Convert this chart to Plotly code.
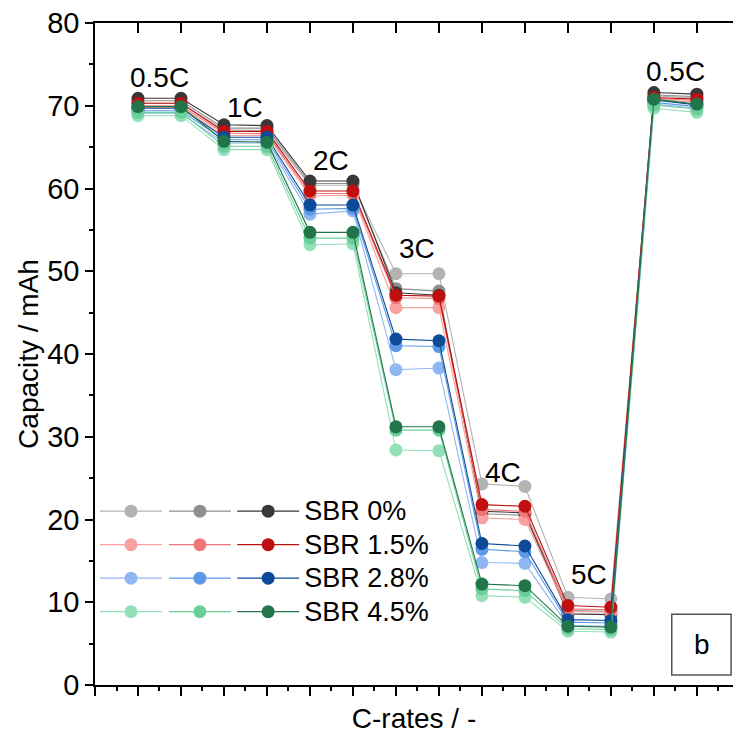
import plotly.graph_objects as go

x_pos = list(range(1, 15))
rate_labels = ["0.5C", "1C", "2C", "3C", "4C", "5C", "0.5C"]
rate_label_x = [1.5, 3.5, 5.5, 7.5, 9.5, 11.5, 13.5]
rate_label_y = [73.4, 69.8, 63.4, 52.8, 25.7, 13.3, 74.2]

sbr_names = ["SBR 0%", "SBR 1.5%", "SBR 2.8%", "SBR 4.5%"]

grey_L = [70.3, 70.3, 67.1, 67.0, 60.4, 60.4, 49.7, 49.7, 24.3, 24.0, 10.6, 10.4, 71.2, 70.9]
grey_M = [70.6, 70.6, 67.3, 67.3, 60.6, 60.6, 47.9, 47.6, 20.7, 20.5, 9.0, 8.9, 71.3, 71.1]
grey_D = [70.9, 70.9, 67.7, 67.6, 60.9, 60.9, 47.4, 47.1, 21.0, 20.8, 8.6, 8.5, 71.6, 71.4]

red_L = [69.8, 69.8, 66.4, 66.4, 59.1, 59.2, 45.6, 45.6, 20.2, 20.0, 8.9, 8.8, 70.8, 70.4]
red_M = [70.0, 70.0, 66.7, 66.6, 59.4, 59.4, 46.8, 46.7, 21.2, 21.0, 9.2, 9.1, 70.9, 70.6]
red_D = [70.3, 70.3, 66.9, 66.9, 59.7, 59.7, 47.1, 47.0, 21.8, 21.6, 9.6, 9.4, 71.0, 70.8]

blue_L = [69.1, 69.1, 65.5, 65.5, 56.9, 57.3, 38.1, 38.3, 14.8, 14.7, 7.2, 7.1, 70.2, 69.7]
blue_M = [69.4, 69.4, 65.9, 65.9, 57.5, 57.6, 41.0, 40.9, 16.4, 16.1, 7.6, 7.5, 70.4, 69.9]
blue_D = [69.7, 69.7, 66.2, 66.2, 58.0, 58.0, 41.8, 41.6, 17.1, 16.8, 7.9, 7.8, 70.7, 70.1]

green_L = [68.8, 68.8, 64.7, 64.7, 53.2, 53.3, 28.4, 28.3, 10.8, 10.6, 6.5, 6.4, 69.7, 69.2]
green_M = [69.2, 69.2, 65.1, 65.1, 54.0, 54.0, 30.8, 30.8, 11.6, 11.4, 6.8, 6.7, 70.1, 69.6]
green_D = [69.9, 69.9, 65.7, 65.6, 54.7, 54.7, 31.2, 31.2, 12.2, 12.0, 7.1, 7.0, 70.8, 70.2]

groups = [
    (grey_L, grey_M, grey_D),
    (red_L, red_M, red_D),
    (blue_L, blue_M, blue_D),
    (green_L, green_M, green_D),
]
colors = [
    ("#b3b3b3", "#8f8f8f", "#383838"),
    ("#f7a1a1", "#ef7676", "#c00f0f"),
    ("#8fb8f2", "#5c9ae8", "#0d4a98"),
    ("#93dfb8", "#6bcf9a", "#22744a"),
]

FONT = "Arial, Liberation Sans, sans-serif"
fig = go.Figure()
legends = ["legend", "legend2", "legend3"]
for gi, (series, cols) in enumerate(zip(groups, colors)):
    for si, (vals, c) in enumerate(zip(series, cols)):
        label = f'<span style="font-size:27px">{sbr_names[gi]}</span>' if si == 2 else ""
        fig.add_trace(go.Scatter(
            x=x_pos, y=vals, mode="lines+markers",
            name=label,
            legend=legends[si],
            legendgroup=f"g{gi}_{si}",
            line=dict(color=c, width=1.1),
            marker=dict(color=c, size=13),
        ))

# dummy trace for the top mirrored axis
fig.add_trace(go.Scatter(x=[], y=[], xaxis="x2", showlegend=False, hoverinfo="skip"))

for lx, ly, lt in zip(rate_label_x, rate_label_y, rate_labels):
    fig.add_annotation(x=lx, y=ly, text=lt, showarrow=False,
                       font=dict(family=FONT, size=28, color="black"))

fig.add_shape(type="rect", xref="paper", yref="paper",
              x0=0.904, x1=0.997, y0=0.015, y1=0.107,
              line=dict(color="#555555", width=1.5), fillcolor="white")
fig.add_annotation(xref="paper", yref="paper", x=0.951, y=0.061, text="b",
                   xanchor="center", yanchor="middle",
                   showarrow=False, font=dict(family=FONT, size=28, color="black"))

leg_common = dict(bgcolor="rgba(0,0,0,0)", borderwidth=0, itemwidth=62,
                  font=dict(family=FONT, size=23, color="black"),
                  xanchor="left", yanchor="top", tracegroupgap=0.6,
                  itemclick=False, itemdoubleclick=False)
fig.update_layout(
    width=733, height=740,
    margin=dict(l=95, r=0, t=23, b=55),
    plot_bgcolor="white", paper_bgcolor="white",
    showlegend=True,
    legend=dict(x=0.0, y=0.295, **leg_common),
    legend2=dict(x=0.108, y=0.295, **leg_common),
    legend3=dict(x=0.215, y=0.295, **leg_common),
    xaxis=dict(range=[0, 14.84], tickvals=list(range(0, 16)), showticklabels=False,
               ticks="outside", ticklen=9, tickwidth=1.5, tickcolor="black",
               minor=dict(dtick=0.5, tick0=0, ticks="outside", ticklen=4, tickwidth=1.5, tickcolor="black"),
               showline=True, linecolor="black", linewidth=1.5, showgrid=False, zeroline=False,
               title=dict(text="C-rates / -", font=dict(family=FONT, size=28, color="black"), standoff=14)),
    xaxis2=dict(range=[0, 14.84], overlaying="x", side="top", tickvals=list(range(0, 16)),
                showticklabels=False, ticks="inside", ticklen=10, tickwidth=1.5, tickcolor="black",
                showline=True, linecolor="black", linewidth=1.5, showgrid=False, zeroline=False),
    yaxis=dict(range=[0, 80], dtick=10, ticks="outside", ticklen=8, tickwidth=1.5, tickcolor="black",
               minor=dict(dtick=5, ticks="outside", ticklen=4, tickwidth=1.5, tickcolor="black"),
               showline=True, linecolor="black", linewidth=1.5, showgrid=False, zeroline=False,
               tickfont=dict(family=FONT, size=29, color="black"),
               title=dict(text="Capacity / mAh", font=dict(family=FONT, size=28, color="black"), standoff=0)),
)

fig.write_html("out.html", post_script="document.body.style.margin='0';",
               config={"displayModeBar": False})
